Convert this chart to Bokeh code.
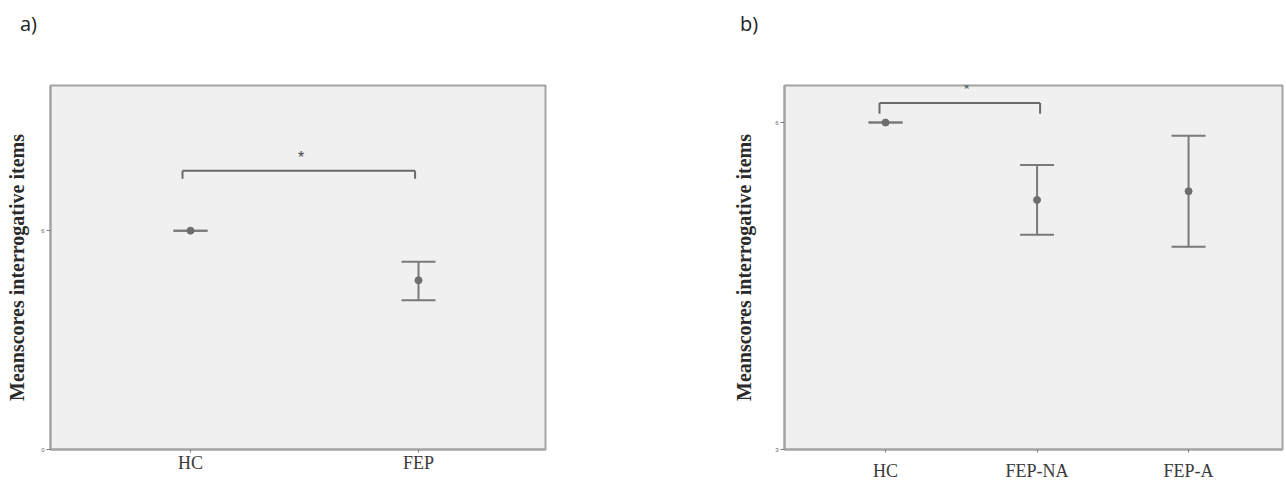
from bokeh.plotting import figure
from bokeh.layouts import row, column
from bokeh.models import ColumnDataSource, Whisker, TeeHead, FixedTicker, Div
from bokeh.embed import file_html
from bokeh.resources import INLINE

# ---- data ----
groups_a = ["HC", "FEP"]
mean_a = [6.0, 4.64]
lower_a = [6.0, 4.09]
upper_a = [6.0, 5.15]
yticks_a = [0, 6]
bracket_a_x = [-0.035, 0.985]
bracket_a_y = [7.64, 7.42]
star_a = (0.485, 8.0)

groups_b = ["HC", "FEP-NA", "FEP-A"]
mean_b = [6.0, 5.29, 5.37]
lower_b = [6.0, 4.97, 4.86]
upper_b = [6.0, 5.61, 5.88]
yticks_b = [3, 6]
bracket_b_x = [-0.04, 1.02]
bracket_b_y = [6.18, 6.08]
star_b = (0.535, 6.3)

SERIF = "Liberation Serif"
LINE = "#7a7a7a"
POINT = "#6e6e6e"


def make_panel(groups, mean, lower, upper, yticks, bx, by, star,
               width, x_range, y_range, borders, label_standoff, xlab_standoff):
    xs = list(range(len(groups)))
    src = ColumnDataSource(dict(x=xs, mean=mean, lower=lower, upper=upper))
    p = figure(width=width, height=444, x_range=x_range, y_range=y_range,
               output_backend="svg", toolbar_location=None,
               min_border_left=borders[0], min_border_right=borders[1],
               min_border_top=borders[2], min_border_bottom=borders[3])
    p.background_fill_color = "#f0f0f0"
    p.border_fill_color = "white"
    p.outline_line_color = "#a3a3a3"
    p.outline_line_width = 2
    p.grid.visible = False

    p.xaxis.axis_label = None
    p.xaxis.ticker = FixedTicker(ticks=xs)
    p.xaxis.major_label_overrides = {i: g for i, g in enumerate(groups)}
    p.xaxis.major_label_text_font = SERIF
    p.xaxis.major_label_text_font_size = "18px"
    p.xaxis.major_label_text_color = "#3a3a3a"
    p.xaxis.major_label_standoff = xlab_standoff
    p.xaxis.minor_tick_line_color = None
    p.xaxis.major_tick_out = 3
    p.xaxis.major_tick_in = 0
    p.xaxis.axis_line_color = "#a3a3a3"
    p.xaxis.axis_line_width = 2
    p.xaxis.major_tick_line_color = "#777777"

    p.yaxis.ticker = FixedTicker(ticks=yticks)
    p.yaxis.major_label_text_font_size = "6px"
    p.yaxis.major_label_text_color = "#666666"
    p.yaxis.major_label_standoff = 2
    p.yaxis.minor_tick_line_color = None
    p.yaxis.major_tick_out = 4
    p.yaxis.major_tick_in = 0
    p.yaxis.axis_line_color = "#a3a3a3"
    p.yaxis.axis_line_width = 2
    p.yaxis.major_tick_line_color = "#777777"
    p.yaxis.axis_label = "Meanscores interrogative items"
    p.yaxis.axis_label_text_font = SERIF
    p.yaxis.axis_label_text_font_style = "bold"
    p.yaxis.axis_label_text_font_size = "20px"
    p.yaxis.axis_label_text_color = "#2a2a2a"
    p.yaxis.axis_label_standoff = label_standoff

    w = Whisker(source=src, base="x", lower="lower", upper="upper",
                line_color=LINE, line_width=2,
                upper_head=TeeHead(size=34, line_color=LINE, line_width=2),
                lower_head=TeeHead(size=34, line_color=LINE, line_width=2))
    p.add_layout(w)
    p.scatter("x", "mean", source=src, size=7, color=POINT)

    # significance bracket
    p.segment(x0=[bx[0], bx[0], bx[1]], y0=[by[0], by[0], by[0]],
              x1=[bx[1], bx[0], bx[1]], y1=[by[0], by[1], by[1]],
              line_color="#6a6a6a", line_width=2)
    p.text(x=[star[0]], y=[star[1]], text=["*"], text_align="center",
           text_baseline="middle", text_font_size="16px", text_color="#444444")
    return p


def letter_div(text, left):
    return Div(text=text, width=60, height=28, margin=(12, 0, 0, left),
               styles={"font-family": "Open Sans", "font-size": "20px",
                       "color": "#222222", "line-height": "24px"})


pa = make_panel(groups_a, mean_a, lower_a, upper_a, yticks_a,
                bracket_a_x, bracket_a_y, star_a,
                width=714, x_range=(-0.614, 1.557), y_range=(0, 9.98),
                borders=(50, 169, 45, 35), label_standoff=10, xlab_standoff=0)

pb = make_panel(groups_b, mean_b, lower_b, upper_b, yticks_b,
                bracket_b_x, bracket_b_y, star_b,
                width=570, x_range=(-0.667, 2.62), y_range=(3, 6.34),
                borders=(70, 2, 45, 35), label_standoff=17, xlab_standoff=8)

layout = row(column(letter_div("a)", 20), pa), column(letter_div("b)", 26), pb))
open("out.html", "w").write(file_html(layout, INLINE))
